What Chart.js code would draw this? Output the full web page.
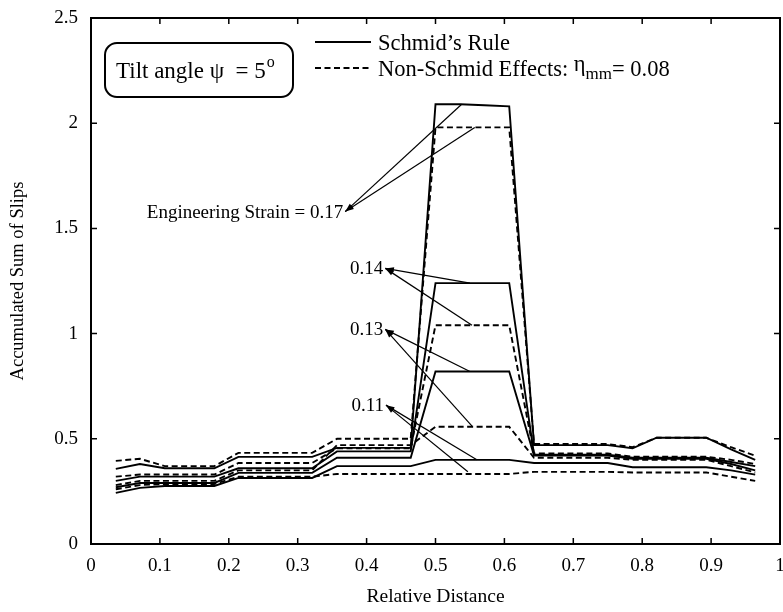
<!DOCTYPE html>
<html lang="en">
  <head>
    <meta charset="UTF-8" />
    <title>Accumulated Sum of Slips</title>
    <script src="https://cdn.jsdelivr.net/npm/chart.js"></script>
    <style>
      body { margin: 0; background: #fff; }
      #chart { display: block; }
    </style>
  </head>
  <body>
    <canvas id="chart" width="783" height="612"></canvas>

    <script>
      // sample positions along the specimen
      var xPos = [0.036, 0.071, 0.107, 0.143, 0.179, 0.214, 0.25, 0.286, 0.321,
        0.357, 0.393, 0.429, 0.464, 0.5, 0.536, 0.571, 0.607, 0.643, 0.679,
        0.714, 0.75, 0.786, 0.821, 0.857, 0.893, 0.929, 0.964];

      // Schmid's rule (solid)
      var schmid17 = [0.357, 0.38, 0.36, 0.36, 0.36, 0.414, 0.414, 0.414, 0.414,
        0.457, 0.457, 0.457, 0.457, 2.09, 2.09, 2.085, 2.08, 0.47, 0.47,
        0.47, 0.47, 0.455, 0.505, 0.505, 0.505, 0.45, 0.40];
      var schmid14 = [0.30, 0.32, 0.32, 0.32, 0.32, 0.36, 0.36, 0.36, 0.36,
        0.44, 0.44, 0.44, 0.44, 1.24, 1.24, 1.24, 1.24, 0.425, 0.425,
        0.425, 0.425, 0.41, 0.41, 0.41, 0.41, 0.39, 0.37];
      var schmid13 = [0.27, 0.29, 0.29, 0.29, 0.29, 0.338, 0.338, 0.338, 0.338,
        0.41, 0.41, 0.41, 0.41, 0.82, 0.82, 0.82, 0.82, 0.42, 0.42,
        0.42, 0.42, 0.405, 0.405, 0.405, 0.405, 0.38, 0.35];
      var schmid11 = [0.243, 0.267, 0.276, 0.276, 0.276, 0.314, 0.314, 0.314, 0.314,
        0.37, 0.37, 0.37, 0.37, 0.40, 0.40, 0.40, 0.40, 0.385, 0.385,
        0.385, 0.385, 0.365, 0.365, 0.365, 0.365, 0.35, 0.33];

      // non-Schmid effects (dashed)
      var nonSchmid17 = [0.395, 0.405, 0.37, 0.37, 0.37, 0.433, 0.433, 0.433, 0.433,
        0.50, 0.50, 0.50, 0.50, 1.98, 1.98, 1.98, 1.98, 0.475, 0.475,
        0.475, 0.475, 0.46, 0.505, 0.505, 0.505, 0.46, 0.42];
      var nonSchmid14 = [0.32, 0.33, 0.33, 0.33, 0.33, 0.385, 0.385, 0.385, 0.385,
        0.455, 0.455, 0.455, 0.455, 1.04, 1.04, 1.04, 1.04, 0.43, 0.43,
        0.43, 0.43, 0.415, 0.415, 0.415, 0.415, 0.40, 0.38];
      var nonSchmid13 = [0.28, 0.30, 0.30, 0.30, 0.30, 0.35, 0.35, 0.35, 0.35,
        0.47, 0.47, 0.47, 0.47, 0.557, 0.557, 0.557, 0.557, 0.41, 0.41,
        0.41, 0.41, 0.40, 0.40, 0.40, 0.40, 0.37, 0.34];
      var nonSchmid11 = [0.26, 0.28, 0.285, 0.285, 0.285, 0.32, 0.32, 0.32, 0.32,
        0.333, 0.333, 0.333, 0.333, 0.333, 0.333, 0.333, 0.333, 0.343, 0.343,
        0.343, 0.343, 0.34, 0.34, 0.34, 0.34, 0.32, 0.30];

      // strain labels and where their arrows point (data coords)
      var strainLabels = ["Engineering Strain = 0.17", "0.14", "0.13", "0.11"];
      var labelAnchors = [[0.369, 1.58], [0.376, 1.31], [0.376, 1.02], [0.378, 0.66]];
      var arrowTargets = [
        [[0.538, 2.09], [0.557, 1.98]],
        [[0.55, 1.24], [0.553, 1.04]],
        [[0.55, 0.82], [0.554, 0.557]],
        [[0.56, 0.40], [0.547, 0.343]],
      ];

      var SERIF = "'Liberation Serif', 'DejaVu Serif', serif";

      function pts(ys) {
        return ys.map(function (y, i) {
          return { x: xPos[i], y: y };
        });
      }

      function series(label, ys, dashed) {
        return {
          label: label,
          data: pts(ys),
          borderColor: "#000",
          borderWidth: 1.9,
          borderDash: dashed ? [6, 3.5] : [],
          pointRadius: 0,
          tension: 0,
          fill: false,
        };
      }

      // frame, inward ticks, legend, annotations
      var decorPlugin = {
        id: "decor",
        afterDraw: function (chart) {
          var c = chart.ctx;
          var a = chart.chartArea;
          var xs = chart.scales.x;
          var ys = chart.scales.y;
          c.save();
          c.strokeStyle = "#000";
          c.fillStyle = "#000";
          c.setLineDash([]);

          // frame
          c.lineWidth = 2;
          c.strokeRect(a.left, a.top, a.right - a.left, a.bottom - a.top);

          // inward ticks
          c.lineWidth = 1.5;
          c.beginPath();
          xs.ticks.forEach(function (t) {
            var px = xs.getPixelForValue(t.value);
            c.moveTo(px, a.bottom);
            c.lineTo(px, a.bottom - 6);
            c.moveTo(px, a.top);
            c.lineTo(px, a.top + 6);
          });
          ys.ticks.forEach(function (t) {
            var py = ys.getPixelForValue(t.value);
            c.moveTo(a.left, py);
            c.lineTo(a.left + 6, py);
            c.moveTo(a.right, py);
            c.lineTo(a.right - 6, py);
          });
          c.stroke();

          // tilt angle box
          c.lineWidth = 2;
          c.beginPath();
          c.roundRect(a.left + 14, a.top + 25, 188, 54, 12);
          c.stroke();
          c.font = "23px " + SERIF;
          c.textBaseline = "alphabetic";
          c.textAlign = "left";
          var tx = a.left + 25;
          var ty = a.top + 60;
          var t1 = "Tilt angle \u03c8  = 5";
          c.fillText(t1, tx, ty);
          var w1 = c.measureText(t1).width;
          c.font = "16px " + SERIF;
          c.fillText("o", tx + w1 + 1, ty - 11);

          // legend
          var lx = a.left + 224;
          c.lineWidth = 1.8;
          c.beginPath();
          c.moveTo(lx, a.top + 24);
          c.lineTo(lx + 56, a.top + 24);
          c.stroke();
          c.setLineDash([6, 3.5]);
          c.beginPath();
          c.moveTo(lx, a.top + 50);
          c.lineTo(lx + 56, a.top + 50);
          c.stroke();
          c.setLineDash([]);
          c.font = "22.5px " + SERIF;
          c.fillText("Schmid\u2019s Rule", lx + 63, a.top + 32);
          var t2 = "Non-Schmid Effects: ";
          c.fillText(t2, lx + 63, a.top + 58);
          var px2 = lx + 63 + c.measureText(t2).width;
          c.fillText("\u03b7", px2, a.top + 53);
          px2 += c.measureText("\u03b7").width;
          c.font = "17px " + SERIF;
          c.fillText("mm", px2, a.top + 61);
          px2 += c.measureText("mm").width;
          c.font = "22.5px " + SERIF;
          c.fillText("= 0.08", px2, a.top + 58);

          // strain labels with arrows
          c.font = "19px " + SERIF;
          c.lineWidth = 1.2;
          strainLabels.forEach(function (txt, i) {
            var ax = xs.getPixelForValue(labelAnchors[i][0]);
            var ay = ys.getPixelForValue(labelAnchors[i][1]);
            if (i === 0) {
              c.textAlign = "right";
              c.fillText(txt, ax - 2, ay + 6);
            } else {
              c.textAlign = "left";
              c.fillText(txt, ax, ay + 6);
              ax = ax + c.measureText(txt).width + 2;
            }
            arrowTargets[i].forEach(function (tg) {
              var ex = xs.getPixelForValue(tg[0]);
              var ey = ys.getPixelForValue(tg[1]);
              c.beginPath();
              c.moveTo(ax, ay);
              c.lineTo(ex, ey);
              c.stroke();
              // small head at the label end
              var ang = Math.atan2(ey - ay, ex - ax);
              c.beginPath();
              c.moveTo(ax, ay);
              c.lineTo(ax + 9 * Math.cos(ang - 0.3), ay + 9 * Math.sin(ang - 0.3));
              c.lineTo(ax + 9 * Math.cos(ang + 0.3), ay + 9 * Math.sin(ang + 0.3));
              c.closePath();
              c.fill();
            });
          });
          c.restore();
        },
      };

      var ctx = document.getElementById("chart").getContext("2d");
      var chart = new Chart(ctx, {
        type: "line",
        data: {
          datasets: [
            series("Schmid 0.17", schmid17, false),
            series("Non-Schmid 0.17", nonSchmid17, true),
            series("Schmid 0.14", schmid14, false),
            series("Non-Schmid 0.14", nonSchmid14, true),
            series("Schmid 0.13", schmid13, false),
            series("Non-Schmid 0.13", nonSchmid13, true),
            series("Schmid 0.11", schmid11, false),
            series("Non-Schmid 0.11", nonSchmid11, true),
          ],
        },
        options: {
          responsive: false,
          animation: false,
          layout: { padding: { top: 18, right: 3, left: 0, bottom: 0 } },
          plugins: {
            legend: { display: false },
            tooltip: { enabled: false },
          },
          scales: {
            x: {
              type: "linear",
              min: 0,
              max: 1,
              grid: { display: false },
              border: { display: false },
              ticks: {
                stepSize: 0.1,
                color: "#000",
                padding: 3,
                maxRotation: 0,
                font: { family: SERIF, size: 19 },
                callback: function (v) {
                  return String(Math.round(v * 10) / 10);
                },
              },
              title: {
                display: true,
                text: "Relative Distance",
                color: "#000",
                font: { family: SERIF, size: 19.5 },
                padding: { top: 0, bottom: 3 },
              },
              afterFit: function (s) {
                s.height = 68;
                s.paddingLeft = 0;
                s.paddingRight = 0;
              },
            },
            y: {
              min: 0,
              max: 2.5,
              grid: { display: false },
              border: { display: false },
              ticks: {
                stepSize: 0.5,
                color: "#000",
                padding: 5,
                font: { family: SERIF, size: 19 },
                callback: function (v) {
                  return String(Math.round(v * 10) / 10);
                },
              },
              title: {
                display: true,
                text: "Accumulated Sum of Slips",
                color: "#000",
                font: { family: SERIF, size: 18.5 },
                padding: { top: 7, bottom: 0 },
              },
              afterFit: function (s) {
                s.width = 91;
                s.paddingTop = 0;
                s.paddingBottom = 0;
              },
            },
          },
        },
        plugins: [decorPlugin],
      });
    </script>
  </body>
</html>
